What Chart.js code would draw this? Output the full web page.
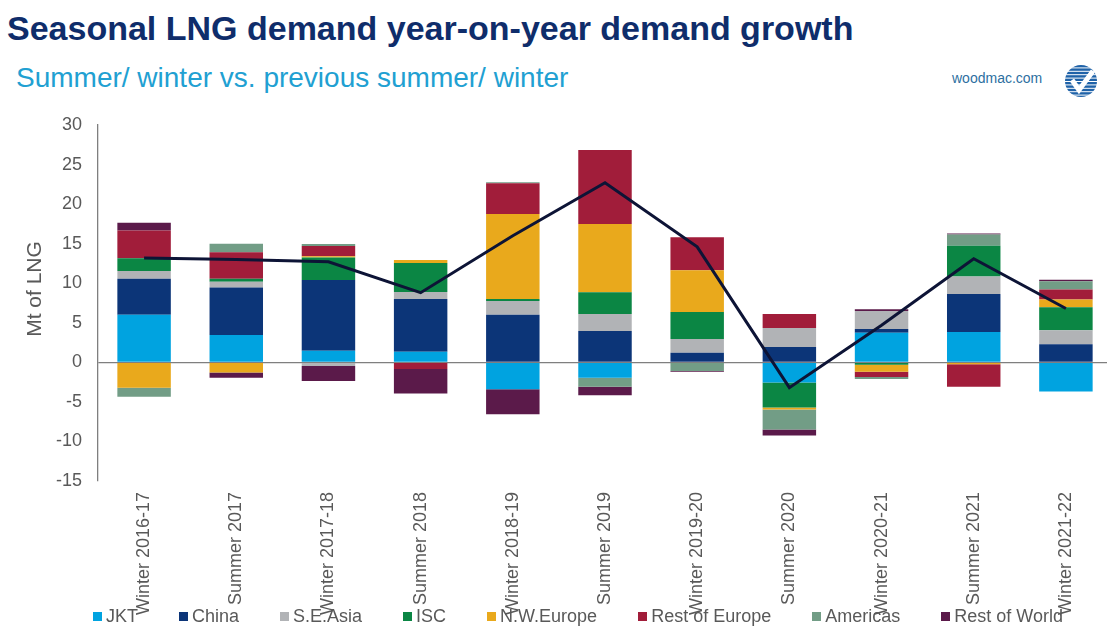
<!DOCTYPE html>
<html>
<head>
<meta charset="utf-8">
<title>Seasonal LNG demand</title>
<script src="https://cdn.jsdelivr.net/npm/chart.js@4.4.1/dist/chart.umd.min.js"></script>
<style>
html, body { margin: 0; padding: 0; background: #fff; overflow: hidden; width: 1107px; height: 633px; }
body { position: relative; font-family: "Liberation Sans", Arial, sans-serif; }
#titulo { position: absolute; left: 7px; top: 11px; font-size: 34px; line-height: 1; font-weight: bold; color: #0f2d6b; white-space: nowrap; }
#subtitulo { position: absolute; left: 16px; top: 64px; font-size: 28px; line-height: 1; color: #21a0d2; white-space: nowrap; }
#site { position: absolute; left: 952px; top: 71px; font-size: 14px; line-height: 1; color: #2d6f9f; }
#logo { position: absolute; left: 1063px; top: 63px; }
#grafico { position: absolute; left: 0; top: 0; }
#legenda { position: absolute; left: 93px; top: 606px; display: flex; gap: 41px; font-size: 18px; line-height: 21px; color: #595959; white-space: nowrap; }
#legenda span.item { display: flex; align-items: center; }
#legenda i { display: inline-block; width: 9px; height: 9px; margin-right: 4px; }
</style>
</head>
<body>
<div id="titulo">Seasonal LNG demand year-on-year demand growth</div>
<div id="subtitulo">Summer/ winter vs. previous summer/ winter</div>
<div id="site">woodmac.com</div>
<svg id="logo" width="36" height="36" viewBox="0 0 36 36">
  <defs><clipPath id="circ"><circle cx="18" cy="18" r="16"/></clipPath></defs>
  <g clip-path="url(#circ)" fill="#1f62a8">
    <rect x="0" y="2" width="36" height="2.4"/>
    <rect x="0" y="5.4" width="36" height="2.4"/>
    <rect x="0" y="8.8" width="36" height="2.4"/>
    <rect x="0" y="12.2" width="36" height="2.4"/>
    <rect x="0" y="15.6" width="36" height="2.4"/>
    <rect x="0" y="19" width="36" height="2.4"/>
    <rect x="0" y="22.4" width="36" height="2.4"/>
    <rect x="0" y="25.8" width="36" height="2.4"/>
    <rect x="0" y="29.2" width="36" height="2.4"/>
    <rect x="0" y="32.6" width="36" height="2.4"/>
  </g>
  <path d="M9 17 L16 27 L30 8" stroke="#fff" stroke-width="5" fill="none"/>
</svg>
<canvas id="grafico" width="1112" height="633"></canvas>
<div id="legenda"></div>
<script>
// categorias (estações)
const categorias = ['Winter 2016-17', 'Summer 2017', 'Winter 2017-18', 'Summer 2018', 'Winter 2018-19', 'Summer 2019',
    'Winter 2019-20', 'Summer 2020', 'Winter 2020-21', 'Summer 2021', 'Winter 2021-22'];

// crescimento por região, Mt de GNL
const jkt = [6.0, 3.45, 1.45, 1.35, -3.4, -1.95, 0, -2.55, 3.75, 3.85, -3.7];
const china = [4.55, 6.0, 8.95, 6.65, 6.0, 3.95, 1.2, 1.95, 0.45, 4.8, 2.3];
const seAsia = [1.0, 0.75, -0.45, 0.9, 1.75, 2.15, 1.75, 2.4, 2.3, 2.2, 1.75];
const isc = [1.6, 0.35, 2.85, 3.65, 0.25, 2.75, 3.4, -3.15, -0.3, 3.9, 2.9];
const nwEurope = [-3.2, -1.3, 0.15, 0.4, 10.75, 8.65, 5.3, -0.25, -0.9, -0.25, 1.0];
const restEurope = [3.5, 3.35, 1.3, -0.85, 3.9, 9.35, 4.15, 1.75, -0.65, -2.85, 1.25];
const americas = [-1.15, 1.1, 0.25, 0, 0.1, -1.15, -1.1, -2.55, -0.25, 1.4, 1.05];
const restWorld = [1.0, -0.65, -1.9, -3.1, -3.15, -1.05, -0.1, -0.75, 0.2, 0.15, 0.2];
// linha do total
const total = [13.2, 13.0, 12.7, 8.8, 16.0, 22.7, 14.6, -3.2, 4.7, 13.1, 6.8];

const nomes = ['JKT', 'China', 'S.E.Asia', 'ISC', 'N.W.Europe', 'Rest of Europe', 'Americas', 'Rest of World'];
const cores = ['#00a3e0', '#0c3578', '#b1b3b6', '#0b8644', '#e9a91c', '#a11d3a', '#729d86', '#5b1a4a'];
const series = [jkt, china, seAsia, isc, nwEurope, restEurope, americas, restWorld];

const yMin = -15;
const yMax = 30;
const yPasso = 5;

const fonte = '"Liberation Sans", Arial, sans-serif';
const cinza = '#595959';

const datasets = [{
    type: 'line',
    label: 'Total',
    data: total,
    borderColor: '#0d1436',
    borderWidth: 3,
    pointRadius: 0,
    tension: 0,
    stack: 'total',
    order: 0
}];
series.forEach((valores, i) => {
    datasets.push({
        type: 'bar',
        label: nomes[i],
        data: valores,
        backgroundColor: cores[i],
        borderWidth: 0,
        barPercentage: 0.58,
        categoryPercentage: 1,
        stack: 'regioes',
        order: 1
    });
});

// título do eixo Y
const tituloEixo = {
    id: 'tituloEixo',
    afterDraw(chart) {
        const ctx = chart.ctx;
        ctx.save();
        ctx.translate(35, 289);
        ctx.rotate(-Math.PI / 2);
        ctx.font = '21px ' + fonte;
        ctx.fillStyle = cinza;
        ctx.textAlign = 'center';
        ctx.textBaseline = 'middle';
        ctx.fillText('Mt of LNG', 0, 0);
        ctx.restore();
    }
};

const grafico = new Chart(document.getElementById('grafico'), {
    data: { labels: categorias, datasets },
    options: {
        responsive: false,
        animation: false,
        layout: { padding: { top: 125, left: 0, right: 0, bottom: 0 } },
        plugins: { legend: { display: false }, tooltip: { enabled: false } },
        scales: {
            x: {
                stacked: true,
                grid: { display: false },
                border: { display: false },
                ticks: {
                    autoSkip: false,
                    maxRotation: 90,
                    minRotation: 90,
                    padding: 3,
                    color: cinza,
                    font: { family: fonte, size: 18 }
                },
                afterFit: (scale) => { scale.height = 152; }
            },
            y: {
                stacked: true,
                min: yMin,
                max: yMax,
                ticks: {
                    stepSize: yPasso,
                    padding: 16,
                    color: cinza,
                    font: { family: fonte, size: 18 }
                },
                grid: {
                    drawTicks: false,
                    color: (ctx) => ctx.tick && ctx.tick.value === 0 ? '#7f7f7f' : 'rgba(0,0,0,0)',
                    lineWidth: 1.3
                },
                border: { display: true, color: '#7f7f7f', width: 1.3 },
                afterFit: (scale) => { scale.width = 98; }
            }
        }
    },
    plugins: [tituloEixo]
});

// legenda em HTML
const legenda = document.getElementById('legenda');
nomes.forEach((nome, i) => {
    const item = document.createElement('span');
    item.className = 'item';
    const marca = document.createElement('i');
    marca.style.background = cores[i];
    item.appendChild(marca);
    item.appendChild(document.createTextNode(nome));
    legenda.appendChild(item);
});
</script>
</body>
</html>
